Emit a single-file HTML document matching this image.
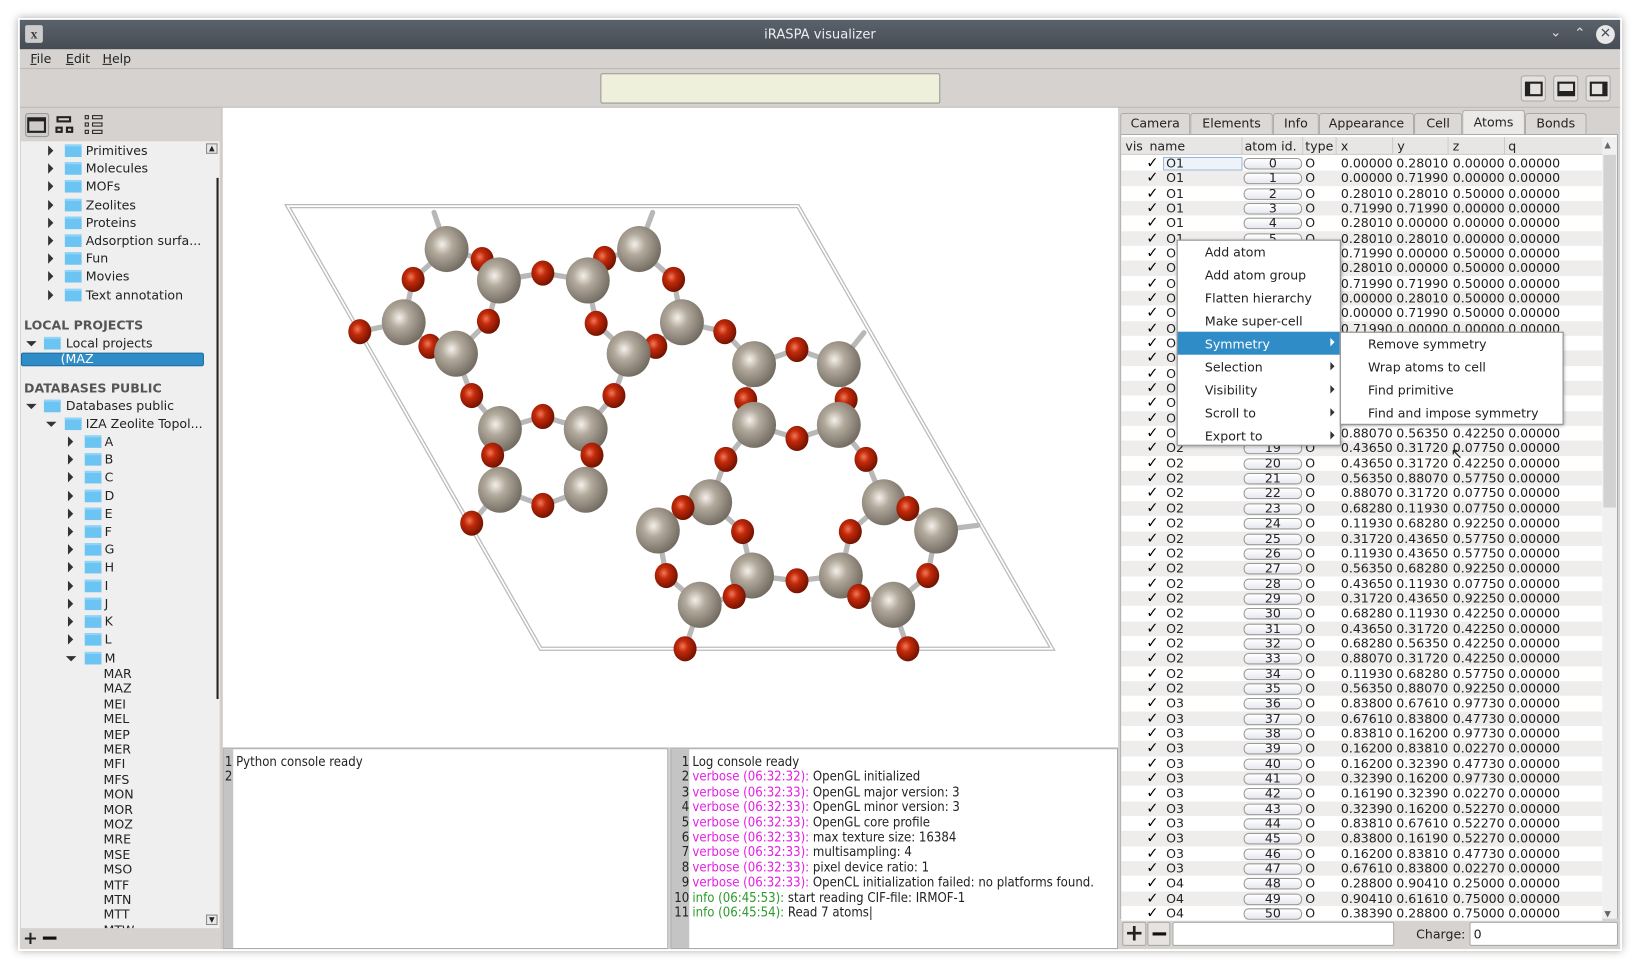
<!DOCTYPE html>
<html><head><meta charset="utf-8">
<style>
*{box-sizing:border-box;margin:0;padding:0}
html,body{width:1640px;height:969px;overflow:hidden;background:#fff}
#w{position:absolute;left:0;top:0;width:1568px;height:927px;transform:scale(1.0459,1.0464);transform-origin:0 0;font-family:"DejaVu Sans","Liberation Sans",sans-serif;font-size:12px;color:#222}
.a{position:absolute}
.t{position:absolute;white-space:nowrap;line-height:14px}
.tri{position:absolute;width:0;height:0;border-top:5px solid transparent;border-bottom:5px solid transparent;border-left:5px solid #333}
.trd{position:absolute;width:0;height:0;border-left:5px solid transparent;border-right:5px solid transparent;border-top:5px solid #333}
.fold{position:absolute;width:16px;height:12px;background:#6cc4f2;border-top:2px solid #8fd4f8}
.cons{font-family:"DejaVu Sans Condensed","DejaVu Sans",sans-serif;font-stretch:condensed}
.mv{color:#e51ee5}.gr{color:#2c9a2c}
</style></head><body>
<div id="w">
<div class="a" style="left:17px;top:17px;width:1534px;height:892px;box-shadow:0 0 8px rgba(0,0,0,.35)"></div>
<div class="a" style="left:19px;top:19px;width:1530px;height:888px;background:#d6d2cf"></div>
<div class="a" style="left:19px;top:19px;width:1530px;height:28px;background:linear-gradient(#5a626b,#464c54)"></div>
<div class="a" style="left:24px;top:24px;width:17px;height:17px;background:#ccc;border-radius:2px;font:bold 13px 'Liberation Serif',serif;color:#444;text-align:center;line-height:17px">x</div>
<div class="t" style="left:0;width:1568px;text-align:center;top:26px;color:#eceff2;font-size:12.5px">iRASPA visualizer</div>
<div class="t" style="left:1482px;top:25px;color:#ddd;font-size:13px">&#8964;</div>
<div class="t" style="left:1505px;top:26px;color:#ddd;font-size:13px">&#8963;</div>
<div class="a" style="left:1526px;top:24px;width:18px;height:18px;border-radius:9px;background:#e8e8e8;color:#4a5058;text-align:center;line-height:18px;font-size:13px;font-weight:bold">✕</div>
<div class="t" style="left:29px;top:49px"><u>F</u>ile</div>
<div class="t" style="left:63px;top:49px"><u>E</u>dit</div>
<div class="t" style="left:98px;top:49px"><u>H</u>elp</div>
<div class="a" style="left:19px;top:65px;width:1530px;height:1px;background:#bdb9b5"></div>
<div class="a" style="left:574px;top:70px;width:325px;height:29px;background:#eef0dc;border:1px solid #9a9a90;border-radius:2px"></div>
<div class="a" style="left:1454px;top:72px;width:24px;height:25px;border:1px solid #aaa;border-radius:3px;background:#e4e1de"><div class="a" style="left:3px;top:5px;width:17px;height:14px;border:2px solid #222;border-left-width:5px"></div></div>
<div class="a" style="left:1485px;top:72px;width:24px;height:25px;border:1px solid #aaa;border-radius:3px;background:#e4e1de"><div class="a" style="left:3px;top:5px;width:17px;height:14px;border:2px solid #222;border-bottom-width:5px"></div></div>
<div class="a" style="left:1516px;top:72px;width:24px;height:25px;border:1px solid #aaa;border-radius:3px;background:#e4e1de"><div class="a" style="left:3px;top:5px;width:17px;height:14px;border:2px solid #222;border-right-width:5px"></div></div>
<div class="a" style="left:19px;top:102px;width:1530px;height:1px;background:#bdb9b5"></div>
<div class="a" style="left:24px;top:108px;width:23px;height:23px;border:1px solid #999;border-radius:3px;background:#cfcbc8"></div>
<div class="a" style="left:26px;top:112px;width:18px;height:15px;border:2px solid #222;border-top-width:4px"></div>
<div class="a" style="left:54px;top:111px;width:14px;height:6px;border:2px solid #222"></div>
<div class="a" style="left:53px;top:121px;width:7px;height:6px;border:2px solid #222"></div>
<div class="a" style="left:63px;top:121px;width:7px;height:6px;border:2px solid #222"></div>
<div class="a" style="left:81px;top:110px;width:4px;height:4px;border:1.5px solid #222"></div><div class="a" style="left:88px;top:110px;width:10px;height:4px;border:1.5px solid #222"></div>
<div class="a" style="left:81px;top:117px;width:4px;height:4px;border:1.5px solid #222"></div><div class="a" style="left:88px;top:117px;width:10px;height:4px;border:1.5px solid #222"></div>
<div class="a" style="left:81px;top:124px;width:4px;height:4px;border:1.5px solid #222"></div><div class="a" style="left:88px;top:124px;width:10px;height:4px;border:1.5px solid #222"></div>
<div class="a" id="tree" style="left:20px;top:135px;width:190px;height:752px;background:#efefef;overflow:hidden"></div>
<div class="a" style="left:197px;top:137px;width:11px;height:10px;border:1px solid #888;background:#e8e8e8;font-size:7px;line-height:8px;text-align:center">▲</div>
<div class="a" style="left:207px;top:170px;width:2px;height:498px;background:#222"></div>
<div class="a" style="left:197px;top:874px;width:11px;height:10px;border:1px solid #888;background:#e8e8e8;font-size:7px;line-height:8px;text-align:center">▼</div>
<div class="t" style="left:22px;top:889px;font-size:17px;font-weight:bold;line-height:16px">+</div>
<div class="a" style="left:41px;top:895px;width:13px;height:3px;background:#111"></div>
<div class="a" style="left:211px;top:103px;width:2px;height:804px;background:#cfcbc8"></div>
<div class="a" style="left:213px;top:103px;width:856px;height:611px;background:#fff"></div>
<svg class="a" style="left:213px;top:103px" width="856" height="611" viewBox="213 103 856 611" id="mol">
<defs>
<radialGradient id="gs" cx="0.4" cy="0.4" r="0.65"><stop offset="0" stop-color="#f4f0ea"/><stop offset="0.35" stop-color="#b3aa9d"/><stop offset="1" stop-color="#6e675d"/></radialGradient>
<radialGradient id="go" cx="0.4" cy="0.4" r="0.65"><stop offset="0" stop-color="#f07a5a"/><stop offset="0.35" stop-color="#c42a0a"/><stop offset="1" stop-color="#6a1000"/></radialGradient>
</defs>
<polygon points="275,197 763,197 1006,620 517,620" fill="none" stroke="#bbb" stroke-width="4"/>
<polygon points="275,197 763,197 1006,620 517,620" fill="none" stroke="#fff" stroke-width="1.6"/>
<g id="bonds" stroke="#b8b8b8" stroke-width="5" stroke-linecap="round"></g>
<g id="atoms"></g>
</svg>
<div class="a" style="left:213px;top:715px;width:426px;height:192px;background:#fff;border:1px solid #aaa"></div>
<div class="a" style="left:214px;top:716px;width:9px;height:190px;background:#c4c4c4"></div>
<div class="t cons" style="left:215px;top:721px;font-size:12.5px">1 Python console ready<br>2</div>
<div class="a" style="left:641px;top:715px;width:428px;height:192px;background:#fff;border:1px solid #aaa"></div>
<div class="a" style="left:642px;top:716px;width:17px;height:190px;background:#c4c4c4"></div>
<div class="t cons" style="left:643px;top:721px;font-size:12.5px;line-height:14.4px"><span style="display:inline-block;width:19px;text-align:right;padding-right:3px">1<br>2<br>3<br>4<br>5<br>6<br>7<br>8<br>9<br>10<br>11</span><span style="display:inline-block;vertical-align:top">Log console ready<br><span class="mv">verbose (06:32:32):</span> OpenGL initialized<br><span class="mv">verbose (06:32:33):</span> OpenGL major version: 3<br><span class="mv">verbose (06:32:33):</span> OpenGL minor version: 3<br><span class="mv">verbose (06:32:33):</span> OpenGL core profile<br><span class="mv">verbose (06:32:33):</span> max texture size: 16384<br><span class="mv">verbose (06:32:33):</span> multisampling: 4<br><span class="mv">verbose (06:32:33):</span> pixel device ratio: 1<br><span class="mv">verbose (06:32:33):</span> OpenCL initialization failed: no platforms found.<br><span class="gr">info (06:45:53):</span> start reading CIF-file: IRMOF-1<br><span class="gr">info (06:45:54):</span> Read 7 atoms|</span></div>
<div class="a" style="left:1071px;top:128px;width:476px;height:750px;background:#fff;border:1px solid #aaa"></div>
<div id="tabs"></div>
<div class="a" style="left:1072px;top:131px;width:474px;height:17px;background:#e8e6e4;border-bottom:1px solid #ccc"></div>
<div class="t" style="left:1076px;top:133px">vis</div><div class="t" style="left:1099px;top:133px">name</div>
<div class="t" style="left:1190px;top:133px">atom id.</div><div class="t" style="left:1248px;top:133px">type</div>
<div class="t" style="left:1282px;top:133px">x</div><div class="t" style="left:1336px;top:133px">y</div>
<div class="t" style="left:1389px;top:133px">z</div><div class="t" style="left:1442px;top:133px">q</div>
<div class="a" style="left:1187px;top:131px;width:1px;height:17px;background:#ccc"></div><div class="a" style="left:1245px;top:131px;width:1px;height:17px;background:#ccc"></div><div class="a" style="left:1277px;top:131px;width:1px;height:17px;background:#ccc"></div><div class="a" style="left:1331px;top:131px;width:1px;height:17px;background:#ccc"></div><div class="a" style="left:1384px;top:131px;width:1px;height:17px;background:#ccc"></div><div class="a" style="left:1438px;top:131px;width:1px;height:17px;background:#ccc"></div>
<div class="a" id="rows" style="left:1072px;top:149px;width:460px;height:731px;overflow:hidden"></div>
<div class="a" style="left:1532px;top:131px;width:14px;height:747px;background:#f0f0f0"></div>
<div class="a" style="left:1533px;top:148px;width:12px;height:337px;background:#d2d2d2"></div>
<div class="t" style="left:1534px;top:132px;font-size:8px;color:#666">▲</div>
<div class="t" style="left:1534px;top:867px;font-size:8px;color:#666">▼</div>
<div class="a" style="left:1073px;top:881px;width:23px;height:23px;border:1px solid #aaa;border-radius:2px;background:#e6e3e0;font:bold 22px 'DejaVu Sans';line-height:21px;text-align:center">+</div>
<div class="a" style="left:1097px;top:881px;width:22px;height:23px;border:1px solid #aaa;border-radius:2px;background:#e6e3e0"><div class="a" style="left:4px;top:9px;width:13px;height:3px;background:#111"></div></div>
<div class="a" style="left:1121px;top:881px;width:212px;height:23px;border:1px solid #aaa;border-radius:2px;background:#fff"></div>
<div class="t" style="left:1354px;top:886px">Charge:</div>
<div class="a" style="left:1405px;top:881px;width:142px;height:23px;border:1px solid #aaa;border-radius:2px;background:#fff"><span class="t" style="left:3px;top:4px">0</span></div>
<div class="a" style="left:1125px;top:229px;width:157px;height:197px;background:#fff;border:1px solid #888;box-shadow:1px 1px 3px rgba(0,0,0,.3)"></div>
<div class="a" style="left:1126px;top:317px;width:155px;height:22px;background:#308cc6"></div>
<div class="t" style="left:1152px;top:230px;line-height:22px">Add atom<br>Add atom group<br>Flatten hierarchy<br>Make super-cell<br><span style="color:#fff">Symmetry</span><br>Selection<br>Visibility<br>Scroll to<br>Export to</div>
<div class="tri" style="left:1272px;top:323px;border-left-color:#fff;border-top-width:4px;border-bottom-width:4px;border-left-width:4px"></div>
<div class="tri" style="left:1272px;top:346px;border-top-width:4px;border-bottom-width:4px;border-left-width:4px"></div>
<div class="tri" style="left:1272px;top:368px;border-top-width:4px;border-bottom-width:4px;border-left-width:4px"></div>
<div class="tri" style="left:1272px;top:390px;border-top-width:4px;border-bottom-width:4px;border-left-width:4px"></div>
<div class="tri" style="left:1272px;top:412px;border-top-width:4px;border-bottom-width:4px;border-left-width:4px"></div>
<div class="a" style="left:1281px;top:317px;width:214px;height:89px;background:#fff;border:1px solid #888;box-shadow:1px 1px 3px rgba(0,0,0,.3)"></div>
<div class="t" style="left:1308px;top:318px;line-height:22px">Remove symmetry<br>Wrap atoms to cell<br>Find primitive<br>Find and impose symmetry</div>
<div class="t" style="left:1387px;top:427px;font-size:14px">↖</div>
</div>
<script>
var tr=document.getElementById('tree'),h='';
function row(y,ax,fx,tx,txt,exp){var s='';if(ax!=null)s+='<div class="'+(exp?'trd':'tri')+'" style="left:'+(ax-20)+'px;top:'+(y-135-(exp?2:5))+'px"></div>';if(fx!=null)s+='<div class="fold" style="left:'+(fx-20)+'px;top:'+(y-135-6)+'px"></div>';s+='<div class="t" style="left:'+(tx-20)+'px;top:'+(y-135-7)+'px">'+txt+'</div>';return s;}
var top1=['Primitives','Molecules','MOFs','Zeolites','Proteins','Adsorption surfa...','Fun','Movies','Text annotation'];
top1.forEach(function(t,i){h+=row(144+i*17.2,46,62,82,t)});
h+='<div class="t" style="left:3px;top:'+(311-142)+'px;font-weight:bold;color:#555">LOCAL PROJECTS</div>';
h+=row(328,25,42,63,'Local projects',1);
h+='<div class="a" style="left:0;top:'+(337-135)+'px;width:175px;height:13px;background:#308cc6;border:1px solid #1a6aa0;border-radius:2px"></div><div class="t" style="left:38px;top:'+(336-135)+'px;color:#fff">(MAZ</div>';
h+='<div class="t" style="left:3px;top:'+(371-142)+'px;font-weight:bold;color:#555">DATABASES PUBLIC</div>';
h+=row(388,25,42,63,'Databases public',1);
h+=row(405,44,62,82,'IZA Zeolite Topol...',1);
'ABCDEFGHIJKL'.split('').forEach(function(c,i){h+=row(422+i*17.2,65,81,100,c)});
h+=row(628.6,63,81,100,'M',1);
['MAR','MAZ','MEI','MEL','MEP','MER','MFI','MFS','MON','MOR','MOZ','MRE','MSE','MSO','MTF','MTN','MTT','MTW'].forEach(function(c,i){h+='<div class="t" style="left:79px;top:'+(644+i*14.4-142)+'px">'+c+'</div>'});
tr.innerHTML=h;
var tabs=[['Camera',1071,1138],['Elements',1138,1217],['Info',1217,1261],['Appearance',1261,1352],['Cell',1352,1398],['Atoms',1398,1458],['Bonds',1458,1517]];
var th='';tabs.forEach(function(t){var a=t[0]=='Atoms';th+='<div class="a" style="left:'+t[1]+'px;top:'+(a?105:108)+'px;width:'+(t[2]-t[1])+'px;height:'+(a?23:20)+'px;border:1px solid #aaa;border-bottom:none;border-radius:3px 3px 0 0;background:'+(a?'#eceae8':'#dcd8d5')+'"></div><div class="t" style="left:'+t[1]+'px;width:'+(t[2]-t[1])+'px;text-align:center;top:'+(a?110:111)+'px">'+t[0]+'</div>'});
document.getElementById('tabs').innerHTML=th;
var V=['0.00000 0.28010 0.00000','0.00000 0.71990 0.00000','0.28010 0.28010 0.50000','0.71990 0.71990 0.00000','0.28010 0.00000 0.00000','0.28010 0.28010 0.00000','0.71990 0.00000 0.50000','0.28010 0.00000 0.50000','0.71990 0.71990 0.50000','0.00000 0.28010 0.50000','0.00000 0.71990 0.50000','0.71990 0.00000 0.00000','0.28010 0.71990 0.00000','0.71990 0.28010 0.00000','0.28010 0.71990 0.50000','0.71990 0.28010 0.50000','0.56350 0.88070 0.07750','0.11930 0.43650 0.92250','0.88070 0.56350 0.42250','0.43650 0.31720 0.07750','0.43650 0.31720 0.42250','0.56350 0.88070 0.57750','0.88070 0.31720 0.07750','0.68280 0.11930 0.07750','0.11930 0.68280 0.92250','0.31720 0.43650 0.57750','0.11930 0.43650 0.57750','0.56350 0.68280 0.92250','0.43650 0.11930 0.07750','0.31720 0.43650 0.92250','0.68280 0.11930 0.42250','0.43650 0.31720 0.42250','0.68280 0.56350 0.42250','0.88070 0.31720 0.42250','0.11930 0.68280 0.57750','0.56350 0.88070 0.92250','0.83800 0.67610 0.97730','0.67610 0.83800 0.47730','0.83810 0.16200 0.97730','0.16200 0.83810 0.02270','0.16200 0.32390 0.47730','0.32390 0.16200 0.97730','0.16190 0.32390 0.02270','0.32390 0.16200 0.52270','0.83810 0.67610 0.52270','0.83800 0.16190 0.52270','0.16200 0.83810 0.47730','0.67610 0.83800 0.02270','0.28800 0.90410 0.25000','0.90410 0.61610 0.75000','0.38390 0.28800 0.75000'];
var rh='';for(var i=0;i<51;i++){var y=i*14.34;var nm=i<12?'O1':i<36?'O2':i<48?'O3':'O4';var v=V[i].split(' ');
rh+='<div class="a" style="left:0;top:'+y+'px;width:460px;height:14.34px;background:'+(i%2?'#efedeb':'#fff')+'"></div>';
rh+='<div class="t" style="left:24px;top:'+(y)+'px;font-weight:bold;font-size:14px;color:#000">✓</div>';
if(i==0)rh+='<div class="a" style="left:40px;top:'+(y+1)+'px;width:76px;height:13px;border:1px solid #9cb8d8;background:#eef3fa"></div>';
rh+='<div class="t" style="left:43px;top:'+y+'px">'+nm+'</div>';
rh+='<div class="a" style="left:117px;top:'+(y+2)+'px;width:56px;height:11px;border:1px solid #999;border-radius:5px;background:linear-gradient(#fff,#e6e8ee)"></div><div class="t" style="left:117px;width:56px;text-align:center;top:'+y+'px">'+i+'</div>';
rh+='<div class="t" style="left:176px;top:'+y+'px">O</div>';
rh+='<div class="t" style="left:210px;top:'+y+'px">'+v[0]+'</div><div class="t" style="left:263px;top:'+y+'px">'+v[1]+'</div><div class="t" style="left:317px;top:'+y+'px">'+v[2]+'</div><div class="t" style="left:370px;top:'+y+'px">0.00000</div>';}
document.getElementById('rows').innerHTML=rh;
var S=[[427,238],[477,268],[562,268],[611,238],[386,308],[436,338],[601,338],[652,308],[478,410],[560,410],[478,468],[560,468],[721,348],[802,348],[721,406],[802,406],[679,480],[845,480],[629,507],[895,507],[719,550],[804,550],[669,578],[854,578]];
var O=[[461,248],[395,267],[519,261],[578,247],[644,267],[467,307],[570,309],[344,317],[411,331],[627,331],[693,317],[451,378],[587,378],[519,398],[762,334],[713,382],[809,382],[471,435],[566,435],[694,439],[828,439],[762,419],[519,483],[451,500],[653,485],[868,486],[710,508],[813,508],[637,550],[887,550],[762,555],[702,570],[821,570],[655,620],[868,620]];
var NS='http://www.w3.org/2000/svg',B=document.getElementById('bonds'),A=document.getElementById('atoms');
function ln(a,b,c,d){var l=document.createElementNS(NS,'line');l.setAttribute('x1',a);l.setAttribute('y1',b);l.setAttribute('x2',c);l.setAttribute('y2',d);B.appendChild(l);}
S.forEach(function(s){O.forEach(function(o){var dx=s[0]-o[0],dy=s[1]-o[1];if(dx*dx+dy*dy<52*52)ln(s[0],s[1],o[0],o[1]);});});
ln(415,203,427,238);ln(624,203,611,238);ln(826,318,802,348);ln(935,502,895,507);
var all=[];O.forEach(function(o){all.push([o[0],o[1],0])});S.forEach(function(s){all.push([s[0],s[1],1])});
all.sort(function(a,b){return a[1]-b[1]});
all.forEach(function(p){var c=document.createElementNS(NS,'ellipse');c.setAttribute('cx',p[0]);c.setAttribute('cy',p[1]);c.setAttribute('rx',p[2]?21:11);c.setAttribute('ry',p[2]?22:12);c.setAttribute('fill',p[2]?'url(#gs)':'url(#go)');A.appendChild(c);});
</script>
</body></html>
